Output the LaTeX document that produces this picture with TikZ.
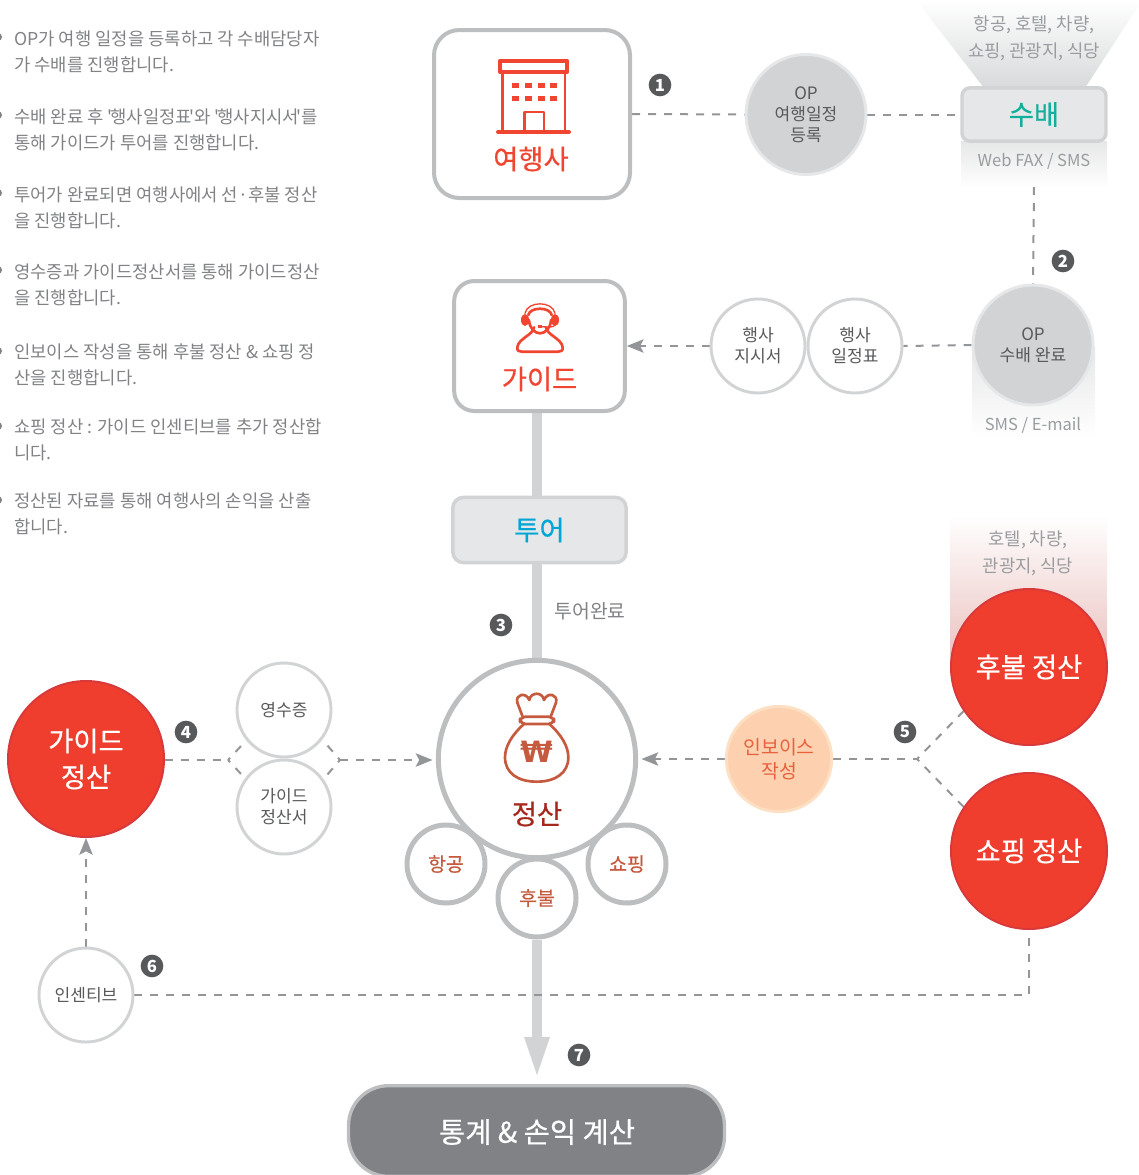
\documentclass[tikz,border=0pt]{standalone}
\usepackage{fontspec}
\setmainfont[Ligatures=TeXOff]{Noto Sans CJK KR}
\newfontfamily\medf[Ligatures=TeXOff,FakeBold=0.5]{Noto Sans CJK KR}
\newfontfamily\wonf{DejaVu Sans}
\usetikzlibrary{arrows.meta,calc}
\definecolor{txtgray}{HTML}{808285}
\definecolor{lightgray}{HTML}{9A9C9F}
\definecolor{darktxt}{HTML}{58595B}
\definecolor{ring}{HTML}{BCBEC0}
\definecolor{ringlight}{HTML}{D1D3D4}
\definecolor{pale}{HTML}{E6E7E8}
\definecolor{dashc}{HTML}{939598}
\definecolor{redmain}{HTML}{EF3E2E}
\definecolor{redring}{HTML}{D8393A}
\definecolor{iconred}{HTML}{F04530}
\definecolor{rust}{HTML}{C65A3E}
\definecolor{darkred}{HTML}{A5281B}
\definecolor{teal}{HTML}{12B09C}
\definecolor{sky}{HTML}{00A6D6}
\definecolor{slatebox}{HTML}{808285}
\definecolor{peach}{HTML}{FDD1B0}
\definecolor{peachring}{HTML}{FDE0C4}
\definecolor{peachtxt}{HTML}{E8603C}
\definecolor{pinkbg}{HTML}{E9C0BD}
\pgfdeclarelayer{shades}
\pgfdeclarelayer{conn}
\pgfsetlayers{shades,conn,main}
\newcommand{\fsz}[2]{\fontsize{#1pt}{#2pt}\selectfont}
\newcommand{\qk}{\kern-1.7pt}
\tikzset{
  notes/.style={anchor=west,align=left,inner sep=0,text=txtgray,font=\fsz{13.3}{19.5}},
  dashline/.style={draw=dashc,line width=1.5pt,dash pattern=on 6pt off 6pt},
  branch/.style={dashline,dash phase=3.75pt},
  arrowline/.style={dashline,-{Stealth[length=12.5pt,width=10pt,inset=2.5pt,fill=dashc]}},
  thickbar/.style={draw=ringlight,line width=7pt},
  numdot/.style={circle,fill=darktxt,text=white,inner sep=0,minimum size=17pt,font=\bfseries\fsz{12.5}{12.5}},
  graycirc/.style={circle,fill=ringlight,draw=pale,line width=2.2pt,inner sep=0,align=center,text=darktxt,font=\fsz{12.8}{15.75},minimum size=90pt},
  docirc/.style={circle,fill=white,draw=ringlight,line width=2.2pt,inner sep=0,align=center,text=darktxt,font=\fsz{12.8}{15.75},minimum size=70.5pt},
  subcirc/.style={circle,fill=white,draw=ring,line width=3.75pt,inner sep=0,align=center,text=rust,font=\medf\fsz{14.5}{16},minimum size=58.5pt},
  redcirc/.style={circle,fill=redmain,draw=redring,line width=1.5pt,inner sep=0,align=center,text=white,font=\medf\fsz{20.5}{27},minimum size=117pt},
  whitebox/.style={rectangle,draw=ring,fill=white,line width=3pt,inner sep=0},
  greybox/.style={rectangle,draw=ringlight,fill=pale,line width=2.6pt,inner sep=0},
  softlabel/.style={inner sep=0,align=center,text=lightgray,font=\fsz{13.3}{19.5}},
  smalllabel/.style={softlabel,font=\fsz{12.4}{19.5}},
  redlabel/.style={inner sep=0,text=iconred,font=\medf\fsz{20.5}{24}},
  icon/.style={draw=iconred,line width=2pt,line join=round,line cap=round},
  bagicon/.style={draw=rust,line width=2pt,line join=round,line cap=round}
}
\begin{document}
\begin{tikzpicture}[x=0.75pt,y=-0.75pt]
\useasboundingbox (0,0) rectangle (1139,1175);
\clip (0,0) rectangle (1139,1175);

% gradient backgrounds
\begin{pgfonlayer}{shades}
\shade[top color=white,bottom color=ringlight!85] (916,0) -- (1139,0) -- (1139,5) -- (1085,88) -- (984,88) -- cycle;
\shade[top color=pale,bottom color=white] (961,141) rectangle (1107,187);
\shade[top color=pale,bottom color=white] (972,346) rectangle (1095,437);
\shade[top color=white,bottom color=pinkbg] (950,515) rectangle (1107,667);
\end{pgfonlayer}

% left notes
\foreach \yb in {37,115,193,270,351,426,500} \fill[txtgray] (-2,\yb) circle[radius=4];
\node[notes] (n1) at (14,51.5) {OP가 여행 일정을 등록하고 각 수배담당자\\가 수배를 진행합니다.};
\node[notes] (n2) at (14,129.5) {수배 완료 후 '\qk 행사일정표\qk '와 '\qk 행사지시서\qk '를\\통해 가이드가 투어를 진행합니다.};
\node[notes] (n3) at (14,207.5) {투어가 완료되면 여행사에서 선·후불 정산\\을 진행합니다.};
\node[notes] (n4) at (14,284.5) {영수증과 가이드정산서를 통해 가이드정산\\을 진행합니다.};
\node[notes] (n5) at (14,365) {인보이스 작성을 통해 후불 정산 \& 쇼핑 정\\산을 진행합니다.};
\node[notes] (n6) at (14,440) {쇼핑 정산 : 가이드 인센티브를 추가 정산합\\니다.};
\node[notes] (n7) at (14,514) {정산된 자료를 통해 여행사의 손익을 산출\\합니다.};

% boxes
\node[whitebox,minimum width=147pt,minimum height=126pt,rounded corners=19pt] (agency) at (532,114) {};
\node[redlabel] (agencyT) at (531,159) {여행사};
\node[graycirc] (opreg) at (806,114.5) {OP\\여행일정\\등록};
\node[greybox,minimum width=108pt,minimum height=40pt,rounded corners=6pt,text=teal,font=\medf\fsz{20.5}{24}] (sup) at (1034,114.5) {\raisebox{-1pt}{수배}};
\node[softlabel] (supT) at (1034,38) {항공, 호텔, 차량,\\[0.5pt]쇼핑, 관광지, 식당};
\node[smalllabel] (faxT) at (1034,161) {Web FAX / SMS};
\node[graycirc] (opdone) at (1033,345) {OP\\수배 완료};
\node[smalllabel] (smsT) at (1033,425) {SMS / E-mail};
\node[docirc] (sched) at (855,346) {행사\\일정표};
\node[docirc] (instr) at (758,346) {행사\\지시서};
\node[whitebox,minimum width=128pt,minimum height=97.5pt,rounded corners=15pt] (guide) at (539.5,346) {};
\node[redlabel] (guideT) at (539.5,379) {가이드};
\node[greybox,minimum width=130pt,minimum height=49pt,rounded corners=8pt,text=sky,font=\medf\fsz{20.5}{24}] (tour) at (539.5,530) {\raisebox{-0.5pt}{투어}};
\node[inner sep=0,text=txtgray,font=\fsz{14.5}{16}] (doneT) at (590,611) {투어완료};
\node[circle,draw=ring,fill=white,line width=3.75pt,minimum size=148pt,inner sep=0] (sett) at (537,759) {};
\node[subcirc] (air) at (446,864) {\raisebox{-1pt}{항공}};
\node[subcirc] (shopS) at (627,864) {\raisebox{-1pt}{쇼핑}};
\node[subcirc] (post) at (537,898) {\raisebox{-0.5pt}{후불}};
\node[inner sep=0,text=darkred,font=\medf\fsz{20.5}{24}] (settT) at (537,814) {정산};
\node[redcirc] (gsett) at (86,759) {\raisebox{-1.5pt}{가이드}\\\raisebox{-1.5pt}{정산}};
\node[docirc] (recp) at (284,710) {영수증};
\node[docirc] (gdoc) at (284,807) {\raisebox{-1.5pt}{가이드}\\\raisebox{-1.5pt}{정산서}};
\node[docirc] (incen) at (86,995) {인센티브};
\node[redcirc] (postS) at (1029,667) {\raisebox{-1pt}{후불 정산}};
\node[redcirc] (shopP) at (1029,851) {\raisebox{-1pt}{쇼핑 정산}};
\node[softlabel] (hotelT) at (1028,553.5) {호텔, 차량,\\[0.5pt]관광지, 식당};
\node[circle,fill=peach,draw=peachring,line width=2.2pt,inner sep=0,align=center,text=peachtxt,minimum size=79pt,font=\fsz{14.5}{18}] (inv) at (779,759) {\raisebox{-2pt}{인보이스}\\\raisebox{-2pt}{작성}};
\node[rectangle,draw=ring,fill=slatebox,line width=2.5pt,rounded corners=30pt,minimum width=282pt,minimum height=68pt,inner sep=0] (stat) at (536.5,1131) {};
\node[inner sep=0,text=white,font=\medf\fsz{21.4}{24}] (statT) at (537,1132) {통계 \& 손익 계산};

% numbered markers
\node[numdot] (m1) at (660,85) {1};
\node[numdot] (m2) at (1063,261) {2};
\node[numdot] (m3) at (501,625) {3};
\node[numdot] (m4) at (186,732) {4};
\node[numdot] (m5) at (905,732) {5};
\node[numdot] (m6) at (152,966) {6};
\node[numdot] (m7) at (579,1055) {7};

% junctions and free ends
\coordinate (jl) at (228,760);
\coordinate (jla) at (242,745);
\coordinate (jlb) at (242,775);
\coordinate (jr) at (340,760);
\coordinate (jra) at (327,745);
\coordinate (jrb) at (327,775);
\coordinate (jinv) at (917,759);
\coordinate (tip) at (537,1075);

% connectors
\begin{pgfonlayer}{conn}
\draw[dashline] (agency.east) -- (opreg.west);
\draw[dashline] (opreg.east) -- (sup.west);
\draw[dashline] (1034,187) -- (opdone.north);
\draw[dashline] (opdone.west) -- (sched.east);
\draw[arrowline] (instr.west) -- (guide.east);
\draw[thickbar] (sett.north |- guide.south) -- (sett.north |- tour.north);
\draw[thickbar] (sett.north |- tour.south) -- (sett.north);
\draw[thickbar] (post.south) -- ++(0,110);
\fill[ringlight] (524,1037) -- (550,1037) -- (tip) -- cycle;
\draw[dashline] (gsett.east |- jl) -- (jl);
\draw[branch] (jl) -- (jla);
\draw[branch] (jl) -- (jlb);
\draw[branch] (jr) -- (jra);
\draw[branch] (jr) -- (jrb);
\draw[arrowline,shorten >=2.5pt] (jr) -- (sett.west |- jr);
\draw[arrowline,shorten >=2.5pt] (inv.west) -- (sett.east |- inv.west);
\draw[dashline] (inv.east) -- (jinv);
\draw[branch] (jinv) -- (postS.214);
\draw[branch] (jinv) -- (shopP.146);
\draw[arrowline] (incen.north) -- (gsett.south);
\draw[dashline] (incen.east) -- (incen.east -| shopP.south) -- (shopP.south);
\end{pgfonlayer}

% building icon
\begin{scope}
\draw[icon,line width=3pt] (500,60.5) rectangle (567,72);
\draw[icon] (502.5,72) -- (502.5,132) (565,72) -- (565,132);
\draw[icon,line width=3pt] (498,132) -- (569,132);
\draw[icon] (524.5,132) -- (524.5,112) -- (544,112) -- (544,132);
\foreach \wy in {85,98} \foreach \wx in {515,528,541,553}
  \fill[iconred] (\wx-3.5,\wy-2.5) rectangle (\wx+3.5,\wy+2.5);
\end{scope}

% headset icon
\begin{scope}[shift={(440,270)},x=0.25pt,y=-0.25pt]
\draw[icon] (282,172) .. controls (280,195) and (235,205) .. (232,232) .. controls (231,242) and (236,245) .. (245,245) -- (355,245) .. controls (364,245) and (369,242) .. (368,232) .. controls (365,205) and (320,195) .. (318,172);
\draw[icon] (265,135) .. controls (270,110) and (330,110) .. (335,135) (267,150) .. controls (268,175) and (285,190) .. (300,190) .. controls (315,190) and (332,175) .. (333,150);
\draw[icon,line width=1pt] (255,130) .. controls (262,92) and (338,92) .. (345,130);
\fill[iconred] (255,150) ellipse[x radius=12,y radius=18];
\fill[iconred] (345,150) ellipse[x radius=12,y radius=18];
\draw[icon,line width=1pt] (345,165) .. controls (340,172) and (330,172) .. (305,170);
\fill[iconred] (293,166) rectangle (305,174);
\end{scope}

% money bag icon
\begin{scope}[shift={(400,650)},x=0.25pt,y=-0.25pt]
\draw[bagicon] (368,200) -- (352,158) .. controls (345,132) and (378,125) .. (388,150) .. controls (392,125) and (428,125) .. (432,150) .. controls (442,125) and (475,132) .. (468,158) -- (452,200);
\draw[bagicon,rounded corners=4pt] (360,200) rectangle (462,222);
\draw[bagicon] (372,222) .. controls (335,255) and (315,290) .. (315,322) .. controls (315,368) and (352,395) .. (410,395) .. controls (468,395) and (505,368) .. (505,322) .. controls (505,290) and (485,255) .. (448,222);
\node[inner sep=0,text=rust,font=\wonf\bfseries\fsz{22}{22}] (won) at (410,306) {₩};
\end{scope}
\end{tikzpicture}
\end{document}
